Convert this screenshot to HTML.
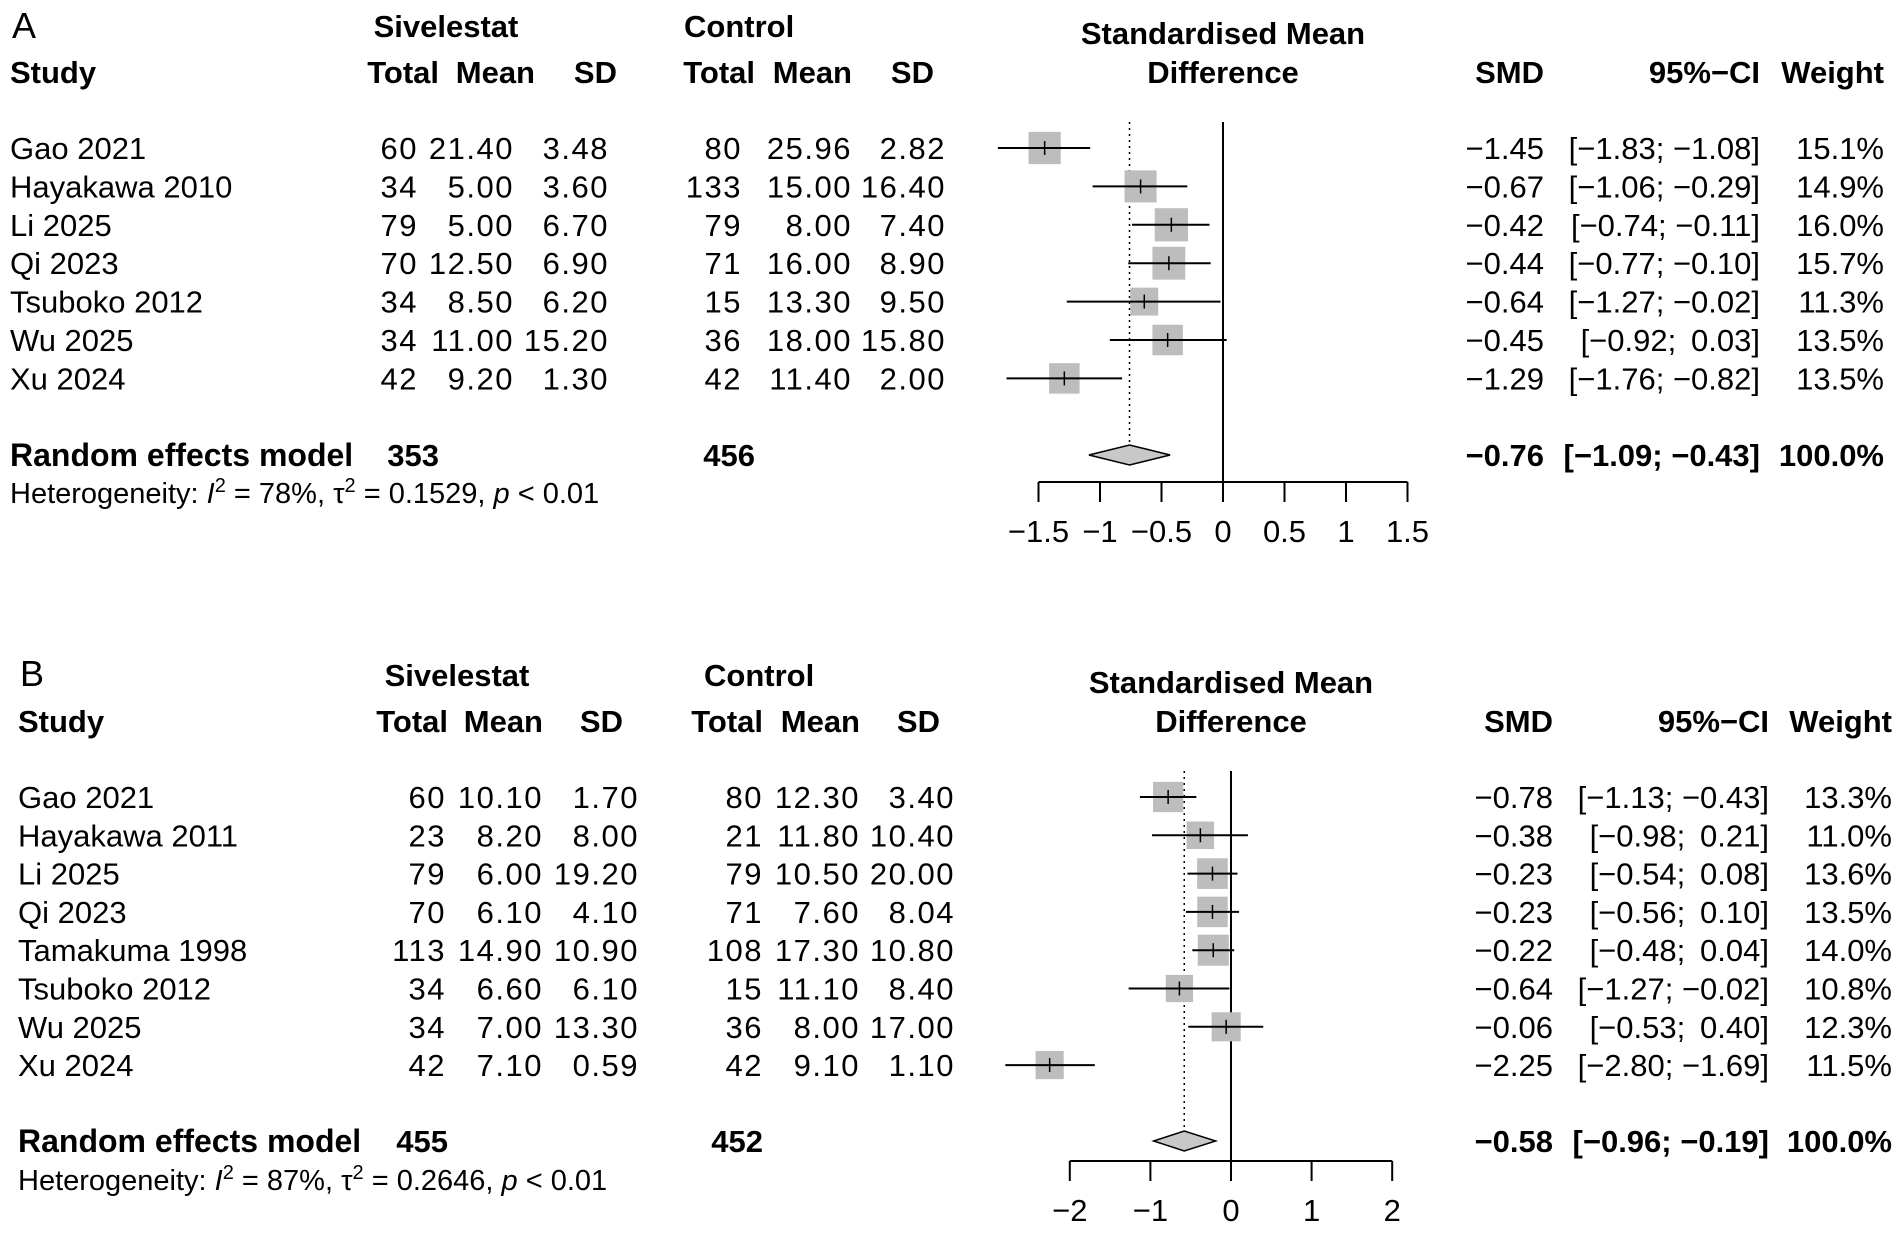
<!DOCTYPE html>
<html><head><meta charset="utf-8">
<style>
html,body{margin:0;padding:0;background:#fff;}
svg{display:block;}
text{font-family:"Liberation Sans",sans-serif;fill:#000;}
.num{letter-spacing:1.5px;}
</style></head>
<body>
<svg id="chart" width="1902" height="1240" viewBox="0 0 1902 1240" xmlns="http://www.w3.org/2000/svg"></svg>
<script>
// Panel A data
const studiesA = ["Gao 2021","Hayakawa 2010","Li 2025","Qi 2023","Tsuboko 2012","Wu 2025","Xu 2024"];
const sivTotalA = ["60","34","79","70","34","34","42"];
const sivMeanA = ["21.40","5.00","5.00","12.50","8.50","11.00","9.20"];
const sivSdA = ["3.48","3.60","6.70","6.90","6.20","15.20","1.30"];
const ctlTotalA = ["80","133","79","71","15","36","42"];
const ctlMeanA = ["25.96","15.00","8.00","16.00","13.30","18.00","11.40"];
const ctlSdA = ["2.82","16.40","7.40","8.90","9.50","15.80","2.00"];
const smdA = [-1.45,-0.67,-0.42,-0.44,-0.64,-0.45,-1.29];
const lowA = [-1.83,-1.06,-0.74,-0.77,-1.27,-0.92,-1.76];
const highA = [-1.08,-0.29,-0.11,-0.10,-0.02,0.03,-0.82];
const weightA = [15.1,14.9,16.0,15.7,11.3,13.5,13.5];
const reA = {est:-0.76, low:-1.09, high:-0.43, n1:"353", n2:"456", i2:"78%", tau2:"0.1529"};
const ticksA = [-1.5,-1,-0.5,0,0.5,1,1.5];
const tickLabelsA = ["\u22121.5","\u22121","\u22120.5","0","0.5","1","1.5"];

// Panel B data
const studiesB = ["Gao 2021","Hayakawa 2011","Li 2025","Qi 2023","Tamakuma 1998","Tsuboko 2012","Wu 2025","Xu 2024"];
const sivTotalB = ["60","23","79","70","113","34","34","42"];
const sivMeanB = ["10.10","8.20","6.00","6.10","14.90","6.60","7.00","7.10"];
const sivSdB = ["1.70","8.00","19.20","4.10","10.90","6.10","13.30","0.59"];
const ctlTotalB = ["80","21","79","71","108","15","36","42"];
const ctlMeanB = ["12.30","11.80","10.50","7.60","17.30","11.10","8.00","9.10"];
const ctlSdB = ["3.40","10.40","20.00","8.04","10.80","8.40","17.00","1.10"];
const smdB = [-0.78,-0.38,-0.23,-0.23,-0.22,-0.64,-0.06,-2.25];
const lowB = [-1.13,-0.98,-0.54,-0.56,-0.48,-1.27,-0.53,-2.80];
const highB = [-0.43,0.21,0.08,0.10,0.04,-0.02,0.40,-1.69];
const weightB = [13.3,11.0,13.6,13.5,14.0,10.8,12.3,11.5];
const reB = {est:-0.58, low:-0.96, high:-0.19, n1:"455", n2:"452", i2:"87%", tau2:"0.2646"};
const ticksB = [-2,-1,0,1,2];
const tickLabelsB = ["\u22122","\u22121","0","1","2"];

const NS="http://www.w3.org/2000/svg";
const svg=document.getElementById('chart');
function mk(tag,attrs,parent){const e=document.createElementNS(NS,tag);for(const k in attrs)e.setAttribute(k,attrs[k]);(parent||svg).appendChild(e);return e;}
function txt(s,x,y,anchor,size,bold,parent,cls){const t=mk('text',{x:x,y:y,'text-anchor':anchor,'font-size':size},parent);if(bold)t.setAttribute('font-weight','bold');if(cls)t.setAttribute('class',cls);t.textContent=s;return t;}
function fmt(v){return (v<0?"\u2212":"")+Math.abs(v).toFixed(2);}
function fmtCI(l,h){return "["+fmt(l)+"; "+(h<0?"":"\u2009")+fmt(h)+"]";}

function panel(P){
  const g=mk('g',{});
  
  
  const xs=v=>P.zero+v*P.unit;
  const FS=31, HS=31;
  let t=txt(P.letter,P.letterX,P.letterY,'start',36,false,g);
  
  t=txt('Sivelestat',P.sivC,P.h1,'middle',HS,true,g);
  
  t=txt('Control',P.ctlL,P.h1,'start',HS,true,g);
  
  t=txt('Standardised Mean',P.zero,P.h1+7,'middle',HS,true,g);
  
  t=txt('Difference',P.zero,P.h2,'middle',HS,true,g);
  
  const heads=[['Study',P.studyX,'start'],['Total',P.cT,'end'],['Mean',P.cMh,'end'],['SD',P.cSh,'end'],['Total',P.dT,'end'],['Mean',P.dM,'end'],['SD',P.dSh,'end'],['SMD',P.cSMD,'end'],['95%\u2212CI',P.cCI,'end'],['Weight',P.cW,'end']];
  heads.forEach(h=>{const e=txt(h[0],h[1],P.h2,h[2],HS,true,g);
    
    });
  const n=P.studies.length;
  const rowY=i=>P.row0+i*P.rowH;
  let l=mk('line',{x1:xs(0),x2:xs(0),y1:rowY(0)-26,y2:P.axisY,stroke:'#000','stroke-width':2},g);
  
  l=mk('line',{x1:xs(P.re.est),x2:xs(P.re.est),y1:rowY(0)-26,y2:P.reY-12,stroke:'#000','stroke-width':1.5,'stroke-dasharray':'2,4'},g);
  
  for(let i=0;i<n;i++){
    const y=rowY(i), ty=y+11;
    let e=txt(P.studies[i],P.studyX,ty,'start',FS,false,g);
    
    const vals=[[P.sT[i],P.vT],[P.sM[i],P.cM],[P.sS[i],P.cS],[P.cTot[i],P.dTv],[P.cMe[i],P.dM],[P.cSd[i],P.dS]];
    vals.forEach(v=>{const c=txt(v[0],v[1],ty,'end',FS,false,g,'num');
      
      });
    e=txt(fmt(P.smd[i]),P.cSMD,ty,'end',FS,false,g);
    
    e=txt(fmtCI(P.low[i],P.high[i]),P.cCI,ty,'end',FS,false,g);
    
    e=txt(P.w[i].toFixed(1)+'%',P.cW,ty,'end',FS,false,g);
    
    const s=P.k*Math.sqrt(P.w[i]);
    const r=mk('rect',{x:xs(P.smd[i])-s/2,y:y-s/2,width:s,height:s,fill:'#bdbdbd'},g);
    
    const c=mk('line',{x1:xs(P.low[i]),x2:xs(P.high[i]),y1:y,y2:y,stroke:'#000','stroke-width':2},g);
    
    const m=mk('line',{x1:xs(P.smd[i]),x2:xs(P.smd[i]),y1:y-7,y2:y+7,stroke:'#000','stroke-width':1.5},g);
    
  }
  const ry=P.reY, rty=ry+11;
  let e=txt('Random effects model',P.studyX,rty,'start',32,true,g);
  
  e=txt(P.re.n1,P.cT,rty,'end',FS,true,g);
  
  e=txt(P.re.n2,P.dT,rty,'end',FS,true,g);
  
  e=txt(fmt(P.re.est),P.cSMD,rty,'end',FS,true,g);
  
  e=txt(fmtCI(P.re.low,P.re.high),P.cCI,rty,'end',FS,true,g);
  
  e=txt('100.0%',P.cW,rty,'end',FS,true,g);
  
  const d=mk('polygon',{points:`${xs(P.re.low)},${ry} ${xs(P.re.est)},${ry-10} ${xs(P.re.high)},${ry} ${xs(P.re.est)},${ry+10}`,fill:'#c8c8c8',stroke:'#000','stroke-width':1.5},g);
  
  const het=mk('text',{x:P.studyX,y:P.hetY,'font-size':29},g);
  
  het.innerHTML=`Heterogeneity: <tspan font-style="italic">I</tspan><tspan dy="-11" font-size="20">2</tspan><tspan dy="11"> = ${P.re.i2}, \u03c4</tspan><tspan dy="-11" font-size="20">2</tspan><tspan dy="11"> = ${P.re.tau2}, </tspan><tspan font-style="italic">p</tspan> &lt; 0.01`;
  const a=mk('line',{x1:xs(P.ticks[0]),x2:xs(P.ticks[P.ticks.length-1]),y1:P.axisY,y2:P.axisY,stroke:'#000','stroke-width':2},g);
  
  P.ticks.forEach((tv,j)=>{
    const tk=mk('line',{x1:xs(tv),x2:xs(tv),y1:P.axisY,y2:P.axisY+20,stroke:'#000','stroke-width':2},g);
    
    const tl=txt(P.tickLabels[j],xs(tv),P.axisY+60,'middle',FS,false,g);
    
  });
}

panel({name:'panel-a',letter:'A',letterX:12,letterY:38,sivC:446,ctlL:684,h1:37,h2:83,studyX:10,
  cT:439,cMh:535,cM:514,cSh:617,cS:609,vT:418,dT:755,dTv:742,dM:852,dSh:934,dS:946,cSMD:1544,cCI:1760,cW:1884,
  zero:1223,unit:123,row0:148,rowH:38.4,reY:455,hetY:503,axisY:482,k:8.3,
  studies:studiesA,sT:sivTotalA,sM:sivMeanA,sS:sivSdA,cTot:ctlTotalA,cMe:ctlMeanA,cSd:ctlSdA,
  smd:smdA,low:lowA,high:highA,w:weightA,re:reA,ticks:ticksA,tickLabels:tickLabelsA});
panel({name:'panel-b',letter:'B',letterX:20,letterY:686,sivC:457,ctlL:704,h1:686,h2:732,studyX:18,
  cT:448,cMh:543,cM:543,cSh:623,cS:639,vT:446,dT:763,dTv:763,dM:860,dSh:940,dS:955,cSMD:1553,cCI:1769,cW:1892,
  zero:1231,unit:80.6,row0:797,rowH:38.3,reY:1141,hetY:1190,axisY:1161,k:8.3,
  studies:studiesB,sT:sivTotalB,sM:sivMeanB,sS:sivSdB,cTot:ctlTotalB,cMe:ctlMeanB,cSd:ctlSdB,
  smd:smdB,low:lowB,high:highB,w:weightB,re:reB,ticks:ticksB,tickLabels:tickLabelsB});
</script>
</body></html>
